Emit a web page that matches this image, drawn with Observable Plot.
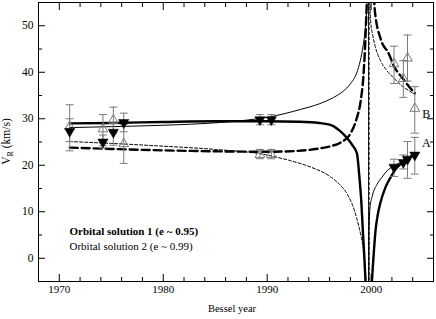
<!DOCTYPE html>
<html><head><meta charset="utf-8">
<script src="https://cdn.jsdelivr.net/npm/d3@7"></script>
<script src="https://cdn.jsdelivr.net/npm/@observablehq/plot@0.6"></script>
<style>body{margin:0;background:#fff}</style>
</head><body><div id="chart"></div>
<script>
// Observations (Bessel year) and radial velocities (km/s)
const epochs = [1971.0, 1974.2, 1975.2, 1976.2, 1989.3, 1990.4, 2002.2, 2003.1, 2003.5, 2004.2];
const vA     = [27.3, 25.0, 27.1, 29.2, 29.8, 29.8, 19.6, 20.6, 21.3, 22.2];
const vA_lo  = [25.1, 23.7, 24.3, 27.2, 28.7, 28.7, 17.6, 19.2, 17.2, 18.1];
const vA_hi  = [30.0, 26.5, 29.0, 31.2, 30.9, 30.9, 21.3, 22.2, 25.1, 26.0];
const vB     = [28.3, 27.8, 29.7, 24.6, 22.3, 22.3, 41.8, 38.6, 43.0, 32.2];
const vB_lo  = [23.1, 24.2, 27.0, 20.4, 21.4, 21.4, 37.6, 34.6, 38.1, 26.9];
const vB_hi  = [33.0, 30.9, 32.5, 28.8, 23.4, 23.4, 45.6, 42.5, 48.0, 36.9];

// Orbital solution 1 (e ~ 0.95): component A (solid) and B (dashed)
const sol1A = [[1971,29.0],[1975,29.1],[1980,29.3],[1985,29.45],[1990,29.45],[1993,29.35],[1995,29.1],[1996.2,28.6],[1997.0,27.4],[1997.7,25.8],[1998.2,24.3],[1998.64,22.5],[1998.85,18],[1999.07,11.6],[1999.2,6],[1999.33,0.9],[1999.46,-4.9],[1999.6,-11],[1999.8,-18],[1999.95,-11],[2000.08,-5],[2000.25,1],[2000.42,5.9],[2000.65,9.5],[2000.9,12],[2001.37,15.2],[2001.85,17.3],[2002.3,19.0],[2003.0,20.6],[2003.6,21.6],[2004.3,22.5]];
const sol1B = [[1971,23.8],[1975,23.5],[1980,23.2],[1985,23.0],[1990,22.9],[1993,23.1],[1995,23.6],[1996.1,24.1],[1997.0,24.8],[1998.06,27.0],[1998.6,30],[1999.0,33.9],[1999.25,39],[1999.4,44.7],[1999.55,53],[1999.7,62],[1999.85,70],[2000.05,65],[2000.37,53],[2000.9,47.3],[2001.7,44],[2002.2,41.3],[2003.0,38.8],[2003.8,36.5],[2004.2,35.5]];

// Orbital solution 2 (e ~ 0.99): branches before and after periastron
const sol2A_pre  = [[1971,28.1],[1975,28.3],[1980,28.6],[1985.5,29.2],[1988,29.7],[1990,30.3],[1993.2,32.0],[1995,33.2],[1996.4,34.6],[1997.3,35.9],[1998.0,37.5],[1998.6,39.8],[1998.96,42.5],[1999.25,46],[1999.45,49.7],[1999.6,55],[1999.7,62],[1999.76,75]];
const sol2A_post = [[1999.77,-10],[1999.8,6],[1999.9,11],[2000.1,13.3],[2000.57,15.9],[2001.0,17.3],[2001.53,18.8],[2002.2,19.9],[2002.8,20.6],[2003.5,21.5],[2004.3,22.5]];
const sol2B_pre  = [[1971,25.1],[1975,24.7],[1980,24.1],[1985,23.4],[1989.5,22.4],[1992.2,21.0],[1994.2,19.6],[1996.1,17.5],[1997.0,15.8],[1997.7,13.8],[1998.2,11.5],[1998.6,8.7],[1999.0,5],[1999.3,1.0],[1999.5,-5],[1999.65,-14],[1999.78,-25]];
const sol2B_post = [[1999.82,90],[1999.87,60],[1999.95,51],[2000.15,48],[2000.4,45.5],[2000.9,42.5],[2001.5,40.4],[2002.2,38.7],[2003.0,37.0],[2003.6,36.1],[2004.2,35.2]];
const jumpA2 = [1999.76];
const jumpB2 = [1999.8];

// Labels and ticks
const compLabels = ["A", "B"];
const compLabelYear = [2005.3, 2005.3];
const compLabelV = [24.8, 30.9];
const legendLines = ["Orbital solution 1 (e ~ 0.95)", "Orbital solution 2 (e ~ 0.99)"];
const xMajor = [1970, 1980, 1990, 2000];
const xMinor = [1972, 1974, 1976, 1978, 1982, 1984, 1986, 1988, 1992, 1994, 1996, 1998, 2002, 2004];
const yMajor = [0, 10, 20, 30, 40, 50];
const yMinor = [5, 15, 25, 35, 45];

const obsA = epochs.map((t, i) => ({t, v: vA[i], lo: vA_lo[i], hi: vA_hi[i]}));
const obsB = epochs.map((t, i) => ({t, v: vB[i], lo: vB_lo[i], hi: vB_hi[i]}));
const labs = compLabels.map((s, i) => ({s, t: compLabelYear[i], v: compLabelV[i]}));

const gray = "#7a7a7a";
const cap = {draw(ctx, size) { const r = Math.sqrt(size / Math.PI); ctx.moveTo(-r, 0); ctx.lineTo(r, 0); }};
const px = d => d[0], py = d => d[1];
const noText = () => "";
const plain = d => String(d);
const FONT = "Liberation Serif";

const chart = Plot.plot({
  width: 436, height: 319,
  marginLeft: 38, marginRight: 3, marginTop: 2, marginBottom: 38,
  x: {domain: [1968, 2006]},
  y: {domain: [-5, 55]},
  style: {fontFamily: FONT, fontSize: "11px", background: "white", color: "black"},
  marks: [
    // curves
    Plot.line(sol1A, {x: px, y: py, stroke: "black", strokeWidth: 2.4, curve: "monotone-x", clip: true}),
    Plot.line(sol1B, {x: px, y: py, stroke: "black", strokeWidth: 2.4, strokeDasharray: "8,4", curve: "monotone-x", clip: true}),
    Plot.line(sol2A_pre, {x: px, y: py, stroke: "black", strokeWidth: 1, curve: "monotone-x", clip: true}),
    Plot.line(sol2A_post, {x: px, y: py, stroke: "black", strokeWidth: 1, curve: "monotone-x", clip: true}),
    Plot.ruleX(jumpA2, {stroke: "black", strokeWidth: 1}),
    Plot.line(sol2B_pre, {x: px, y: py, stroke: "black", strokeWidth: 1, strokeDasharray: "3,2", curve: "monotone-x", clip: true}),
    Plot.line(sol2B_post, {x: px, y: py, stroke: "black", strokeWidth: 1, strokeDasharray: "3,2", curve: "monotone-x", clip: true}),
    Plot.ruleX(jumpB2, {stroke: "black", strokeWidth: 1, strokeDasharray: "3,2"}),
    // error bars
    Plot.ruleX(obsB, {x: "t", y1: "lo", y2: "hi", stroke: gray, strokeWidth: 1}),
    Plot.dot(obsB, {x: "t", y: "lo", symbol: cap, r: 4, stroke: gray, strokeWidth: 1}),
    Plot.dot(obsB, {x: "t", y: "hi", symbol: cap, r: 4, stroke: gray, strokeWidth: 1}),
    Plot.ruleX(obsA, {x: "t", y1: "lo", y2: "hi", stroke: gray, strokeWidth: 1}),
    Plot.dot(obsA, {x: "t", y: "lo", symbol: cap, r: 4, stroke: gray, strokeWidth: 1}),
    Plot.dot(obsA, {x: "t", y: "hi", symbol: cap, r: 4, stroke: gray, strokeWidth: 1}),
    // points
    Plot.dot(obsB, {x: "t", y: "v", symbol: "triangle", r: 3.6, stroke: gray, fill: "none", strokeWidth: 1}),
    Plot.dot(obsA, {x: "t", y: "v", symbol: "triangle", rotate: 180, r: 3.8, fill: "black", stroke: "black", strokeWidth: 0.5}),
    // component labels
    Plot.text(labs, {x: "t", y: "v", text: "s", fontSize: 12, fill: "black"}),
    // legend text
    Plot.text([legendLines[0]], {frameAnchor: "bottom-left", textAnchor: "start", dx: 31, dy: -47, fontWeight: "bold", fontSize: 11, fill: "black"}),
    Plot.text([legendLines[1]], {frameAnchor: "bottom-left", textAnchor: "start", dx: 31, dy: -32, fontSize: 11, fill: "black"}),
    // x label
    Plot.text(["Bessel year"], {frameAnchor: "bottom", dx: -4, dy: 30, fontSize: 10.5, fill: "black"}),
    // axes with inward ticks
    Plot.axisX(xMajor, {anchor: "bottom", tickSize: -7, tickPadding: 11, tickFormat: plain, fontSize: 11, label: null}),
    Plot.axisX(xMinor, {anchor: "bottom", tickSize: -4, tickFormat: noText, label: null}),
    Plot.axisX(xMajor, {anchor: "top", tickSize: -7, tickFormat: noText, label: null}),
    Plot.axisX(xMinor, {anchor: "top", tickSize: -4, tickFormat: noText, label: null}),
    Plot.axisY(yMajor, {anchor: "left", tickSize: -7, tickPadding: 12, tickFormat: plain, fontSize: 11.5, label: null}),
    Plot.axisY(yMinor, {anchor: "left", tickSize: -4, tickFormat: noText, label: null}),
    Plot.axisY(yMajor, {anchor: "right", tickSize: -7, tickFormat: noText, label: null}),
    Plot.axisY(yMinor, {anchor: "right", tickSize: -4, tickFormat: noText, label: null}),
    Plot.frame({stroke: "black", strokeWidth: 1})
  ]
});

// y-axis title with subscript
const svg = d3.select(chart);
const yl = svg.append("text")
  .attr("transform", "translate(10,141.5) rotate(-90)")
  .attr("text-anchor", "middle")
  .attr("font-size", 11.5)
  .attr("fill", "black");
yl.append("tspan").text("V");
yl.append("tspan").attr("font-size", 8).attr("dy", 3).text("R");
yl.append("tspan").attr("dy", -3).text(" (km/s)");

// force the serif family on every text element
svg.attr("font-family", FONT);
svg.selectAll("g, text").attr("font-family", FONT).style("font-family", FONT);

document.getElementById("chart").appendChild(chart);
</script></body></html>
